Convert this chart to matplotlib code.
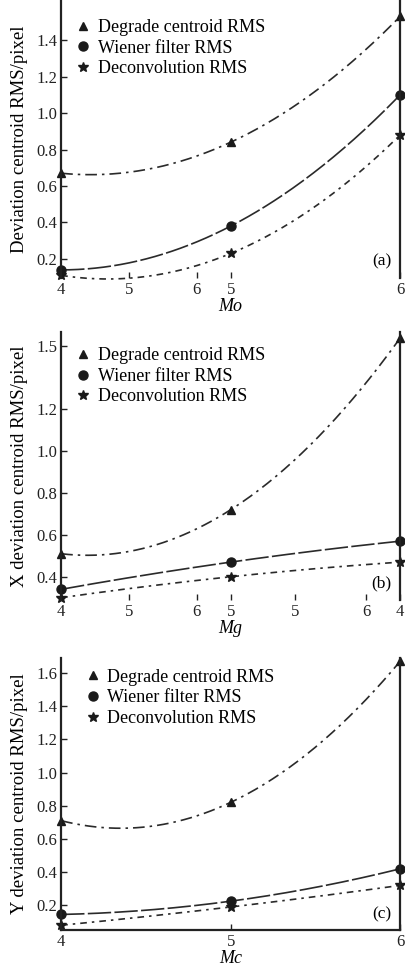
import numpy as np
import matplotlib
matplotlib.use("Agg")
import matplotlib.pyplot as plt

plt.rcParams['font.family'] = ['Liberation Serif', 'DejaVu Serif']
plt.rcParams['mathtext.fontset'] = 'stix'

mag = [4, 5, 6]
labels_series = ["Degrade centroid RMS", "Wiener filter RMS", "Deconvolution RMS"]

# panel (a)
a_degrade = [0.67, 0.84, 1.53]
a_wiener = [0.14, 0.38, 1.10]
a_deconv = [0.11, 0.23, 0.88]
# panel (b)
b_degrade = [0.51, 0.72, 1.54]
b_wiener = [0.34, 0.47, 0.57]
b_deconv = [0.30, 0.40, 0.47]
# panel (c)
c_degrade = [0.71, 0.82, 1.67]
c_wiener = [0.145, 0.225, 0.42]
c_deconv = [0.08, 0.19, 0.32]

a_xticks = [4, 4.4, 4.8, 5, 6]
a_xticklabels = ['4', '5', '6', '5', '6']
b_xticks = [4, 4.4, 4.8, 5, 5.38, 5.8, 6]
b_xticklabels = ['4', '5', '6', '5', '5', '6', '4']
c_xticks = [4, 5, 6]
c_xticklabels = ['4', '5', '6']

a_yticks = [0.2, 0.4, 0.6, 0.8, 1.0, 1.2, 1.4]
b_yticks = [0.4, 0.6, 0.8, 1.0, 1.2, 1.5]
c_yticks = [0.2, 0.4, 0.6, 0.8, 1.0, 1.2, 1.4, 1.6]

panels = [
    dict(rect=[0.151, 0.713, 0.837, 0.287], data=(a_degrade, a_wiener, a_deconv),
         ylim=(0.095, 1.62), yticks=a_yticks, xticks=a_xticks, xtl=a_xticklabels,
         ylabel="Deviation centroid RMS/pixel", xlabel="Mo", tag="(a)", bottom=False,
         leg_y=0.97, leg_x=0.012),
    dict(rect=[0.151, 0.381, 0.837, 0.276], data=(b_degrade, b_wiener, b_deconv),
         ylim=(0.29, 1.567), yticks=b_yticks, xticks=b_xticks, xtl=b_xticklabels,
         ylabel="X deviation centroid RMS/pixel", xlabel="Mg", tag="(b)", bottom=False,
         leg_y=0.985, leg_x=0.012),
    dict(rect=[0.151, 0.040, 0.837, 0.281], data=(c_degrade, c_wiener, c_deconv),
         ylim=(0.05, 1.69), yticks=c_yticks, xticks=c_xticks, xtl=c_xticklabels,
         ylabel="Y deviation centroid RMS/pixel", xlabel="Mc", tag="(c)", bottom=True,
         leg_y=1.0, leg_x=0.04),
]

markers = ['^', 'o', '*']
msizes = [5.5, 6.5, 7.5]
styles = [(0, (7, 3, 1.5, 3)), (0, (14, 2)), (0, (4, 3, 1.5, 3))]

fig = plt.figure(figsize=(4.05, 9.69), dpi=100)
for p in panels:
    ax = fig.add_axes(p['rect'])
    xs = np.linspace(mag[0], mag[-1], 200)
    for vals, mk, ms, ls, lab in zip(p['data'], markers, msizes, styles, labels_series):
        coef = np.polyfit(mag, vals, 2)
        ax.plot(xs, np.polyval(coef, xs), color='#2a2a2a', lw=1.2, linestyle=ls,
                clip_on=False)
        ax.plot(mag, vals, linestyle='none', marker=mk, ms=ms, color='#1a1a1a',
                clip_on=False, label=lab)
    ax.set_xlim(4, 6)
    ax.set_ylim(*p['ylim'])
    ax.set_yticks(p['yticks'])
    ax.set_yticklabels([f"{v:.1f}" for v in p['yticks']])
    ax.set_xticks(p['xticks'])
    ax.set_xticklabels(p['xtl'])
    ax.spines['top'].set_visible(False)
    ax.spines['bottom'].set_visible(p['bottom'])
    for s in ['left', 'right', 'bottom']:
        ax.spines[s].set_linewidth(1.6)
        ax.spines[s].set_color('#222222')
    ax.tick_params(direction='in', length=4, width=1, labelsize=12, pad=3,
                   colors='#222222')
    ax.set_ylabel(p['ylabel'], fontsize=13.5, labelpad=6)
    ax.set_xlabel(p['xlabel'], fontsize=13, style='italic', labelpad=0)
    ax.text(0.975, 0.03, p['tag'], transform=ax.transAxes, ha='right', va='bottom',
            fontsize=12.5)
    ax.legend(loc='upper left', bbox_to_anchor=(p['leg_x'], p['leg_y']),
              frameon=False, fontsize=13, handlelength=0.8, handletextpad=0.4,
              labelspacing=0.2, borderaxespad=0.2)

fig.savefig("out.png", dpi=100)
